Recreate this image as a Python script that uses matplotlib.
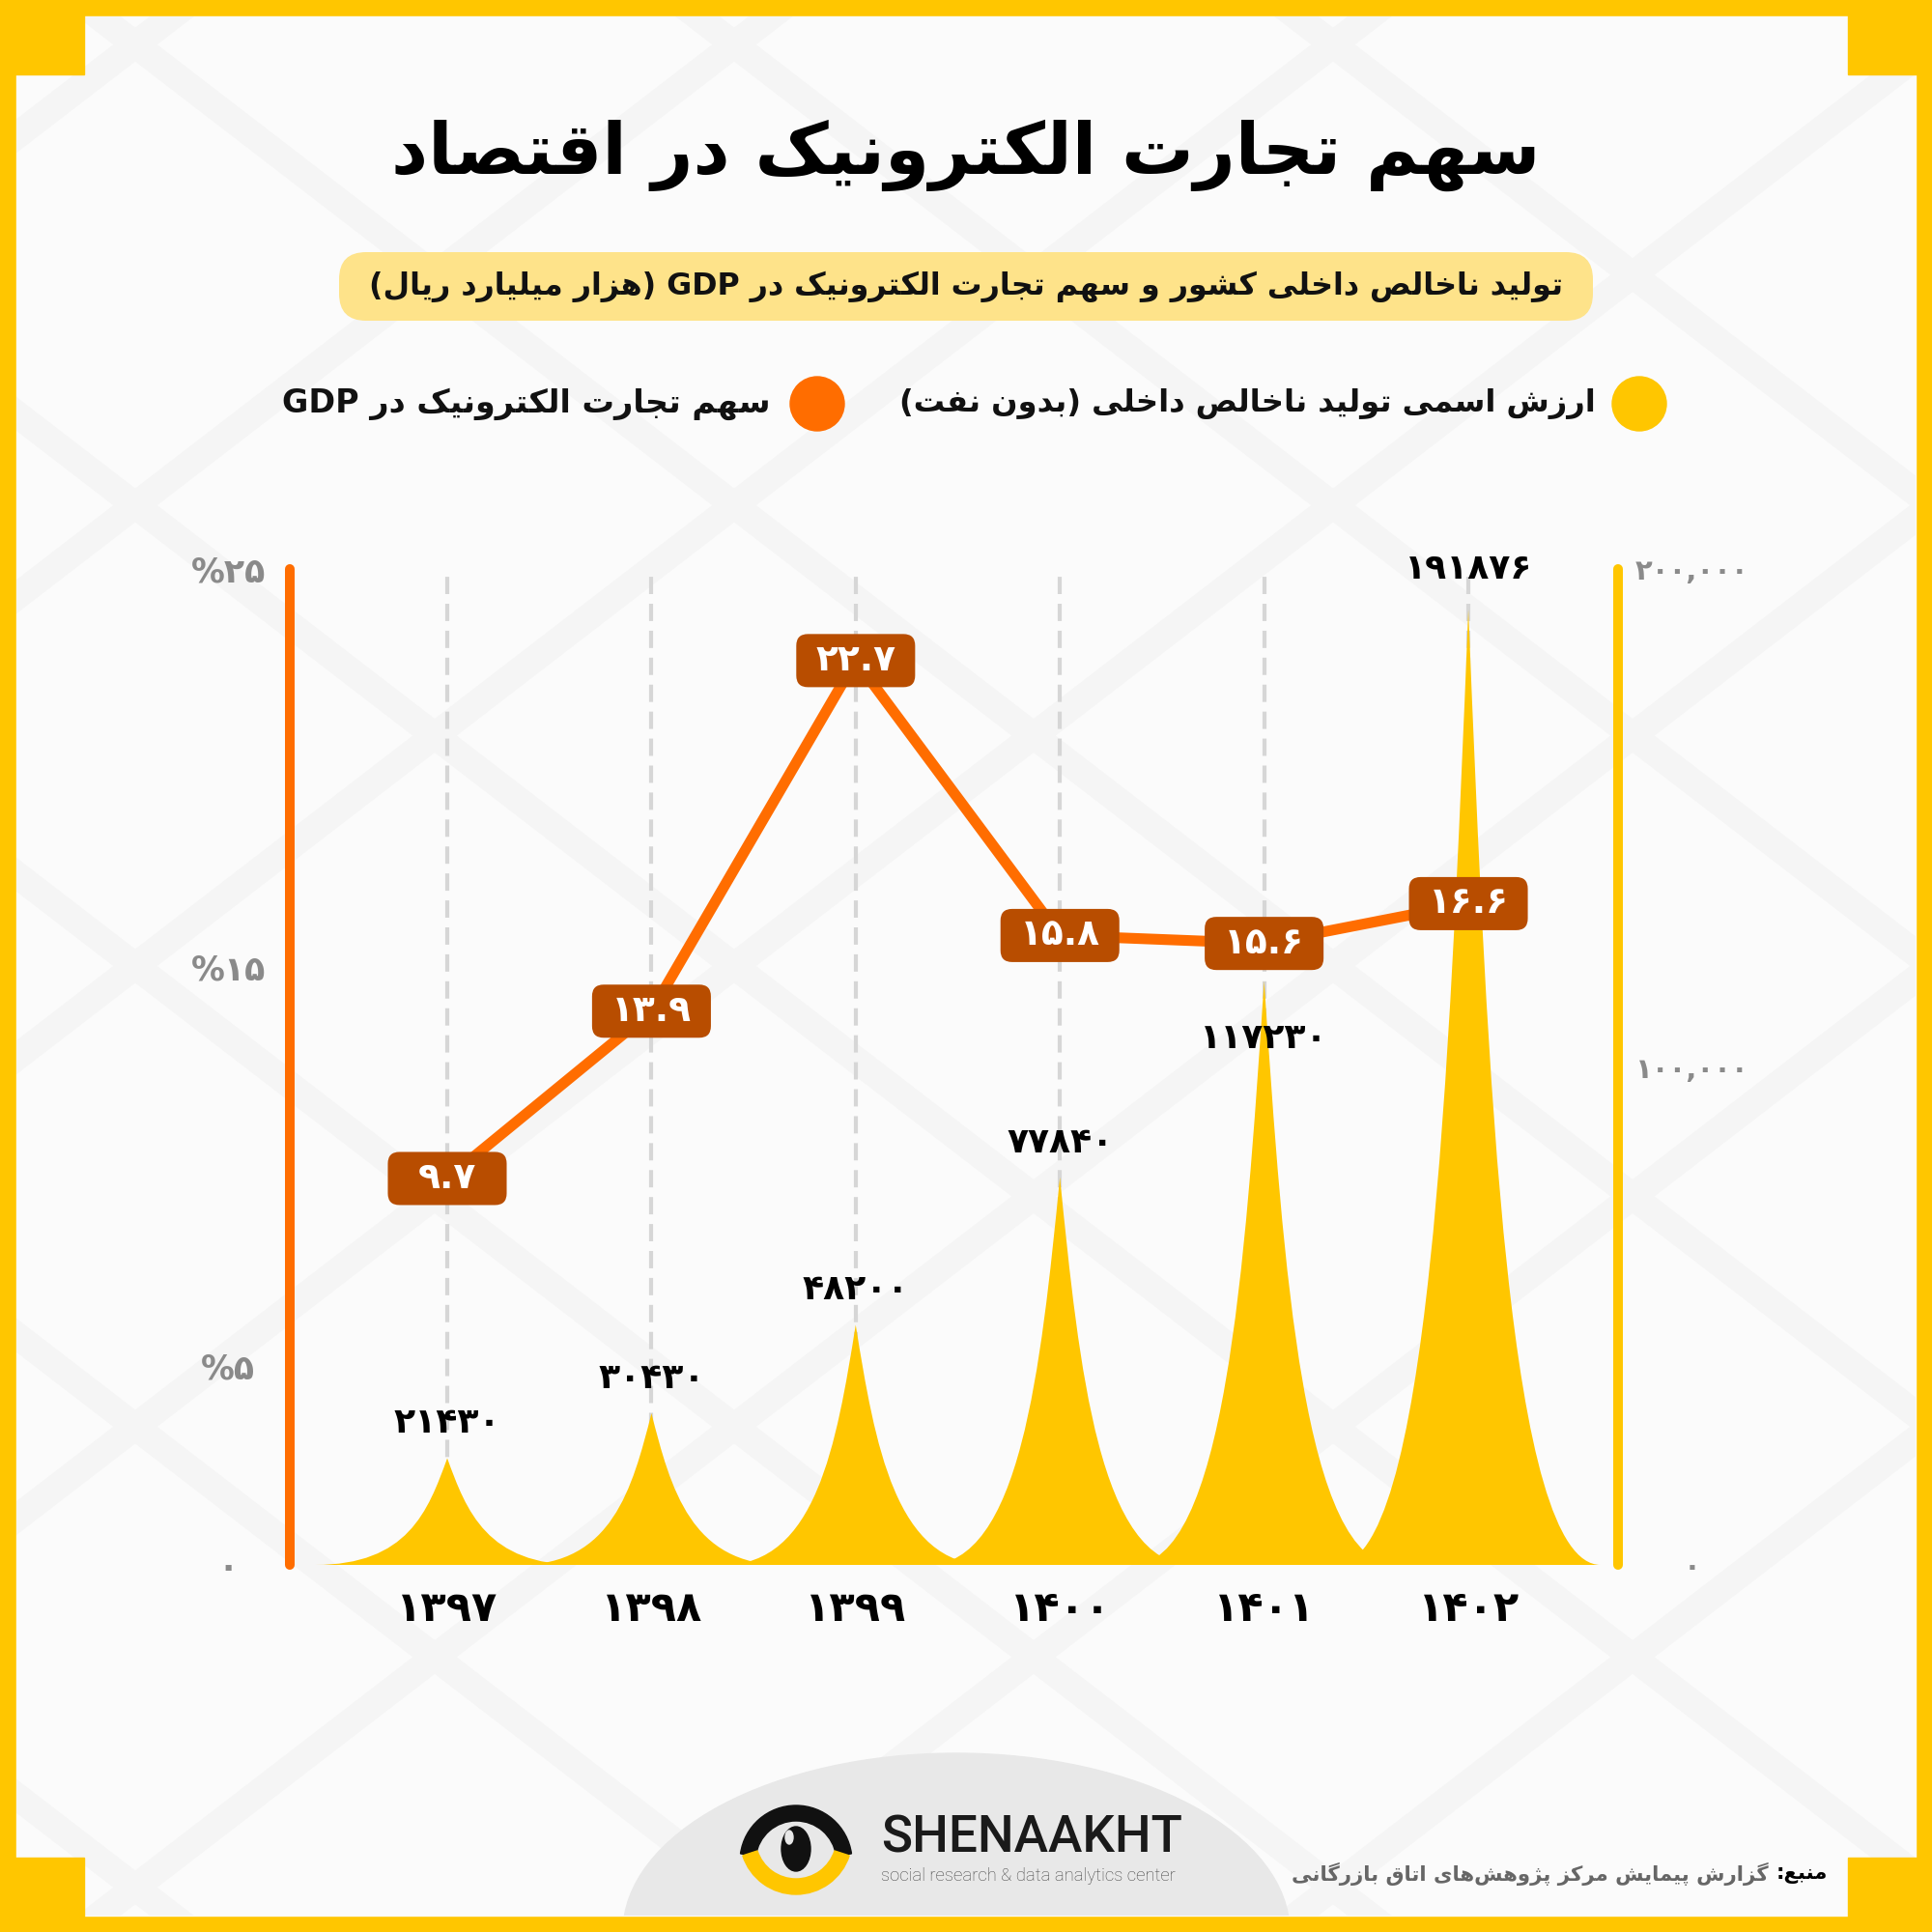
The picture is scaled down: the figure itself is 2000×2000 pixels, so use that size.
import re
import numpy as np
import matplotlib
matplotlib.use('Agg')
import matplotlib.pyplot as plt
from matplotlib.patches import Rectangle, FancyBboxPatch, Ellipse, Wedge, Circle, PathPatch
from matplotlib.path import Path

plt.rcParams['font.family'] = ['DejaVu Sans']

# data
years = [1397, 1398, 1399, 1400, 1401, 1402]
gdp = [21430, 30430, 48200, 77840, 117230, 191876]
share = [9.7, 13.9, 22.7, 15.8, 15.6, 16.6]
left_ticks = [0, 5, 15, 25]
right_ticks = [0, 100000, 200000]

title = 'سهم تجارت الکترونیک در اقتصاد'
subtitle = 'تولید ناخالص داخلی کشور و سهم تجارت الکترونیک در GDP (هزار میلیارد ریال)'
legend_gdp = 'ارزش اسمی تولید ناخالص داخلی (بدون نفت)'
legend_share = 'سهم تجارت الکترونیک در GDP'
source_head = 'منبع:'
source_body = 'گزارش پیمایش مرکز پژوهش‌های اتاق بازرگانی'

YELLOW = '#FFC600'
ORANGE = '#FF6D00'
BROWN = '#B84D00'
GRAY = '#8A8A8A'

# --- tiny persian shaper (matplotlib has no arabic shaping / bidi) ---
DUAL = {'ب': 0xFE8F, 'پ': 0xFB56, 'ت': 0xFE95, 'ث': 0xFE99, 'ج': 0xFE9D, 'چ': 0xFB7A,
        'ح': 0xFEA1, 'خ': 0xFEA5, 'س': 0xFEB1, 'ش': 0xFEB5, 'ص': 0xFEB9, 'ض': 0xFEBD,
        'ط': 0xFEC1, 'ظ': 0xFEC5, 'ع': 0xFEC9, 'غ': 0xFECD, 'ف': 0xFED1, 'ق': 0xFED5,
        'ک': 0xFB8E, 'ك': 0xFED9, 'گ': 0xFB92, 'ل': 0xFEDD, 'م': 0xFEE1, 'ن': 0xFEE5,
        'ه': 0xFEE9, 'ی': 0xFBFC, 'ي': 0xFEF1, 'ئ': 0xFE89}
RIGHT = {'ا': 0xFE8D, 'آ': 0xFE81, 'د': 0xFEA9, 'ذ': 0xFEAB, 'ر': 0xFEAD, 'ز': 0xFEAF,
         'ژ': 0xFB8A, 'و': 0xFEED}
FA_DIG = str.maketrans('0123456789', '۰۱۲۳۴۵۶۷۸۹')


def shape(s):
    out = []
    i = 0
    while i < len(s):
        c = s[i]
        prev = s[i - 1] if i > 0 else ''
        nxt = s[i + 1] if i + 1 < len(s) else ''
        p = prev in DUAL
        if c == 'ل' and nxt in ('ا', 'آ'):
            out.append(chr((0xFEFB if nxt == 'ا' else 0xFEF5) + p))
            i += 2
            continue
        if c in DUAL or c in RIGHT:
            q = c in DUAL and (nxt in DUAL or nxt in RIGHT)
            base = DUAL.get(c, RIGHT.get(c))
            out.append(chr(base + (3 if p and q else 1 if p else 2 if q else 0)))
        elif c != '\u200c':
            out.append(c)
        i += 1
    return ''.join(out)


def fa(s):
    toks = re.findall(r'[A-Za-z0-9\u06F0-\u06F9]+(?:[.,][A-Za-z0-9\u06F0-\u06F9]+)*|.', shape(s))
    mirror = {'(': ')', ')': '('}
    return ''.join(t if re.match(r'[A-Za-z0-9\u06F0-\u06F9]', t) else mirror.get(t, t)
                   for t in reversed(toks))


def fnum(v):
    return str(v).translate(FA_DIG)


fig = plt.figure(figsize=(20, 20), dpi=100)
rend = fig.canvas.get_renderer()


def fit(t, width):
    w = t.get_window_extent(renderer=rend).width
    t.set_fontsize(t.get_fontsize() * width / w)


# background, frame (pixel coords, y down)
bg = fig.add_axes([0, 0, 1, 1])
bg.set_xlim(0, 2000)
bg.set_ylim(2000, 0)
bg.axis('off')
bg.add_patch(Rectangle((0, 0), 2000, 2000, color=YELLOW))
inner = Rectangle((17, 17), 1966, 1966, color='#FBFBFB')
bg.add_patch(inner)
for off in np.arange(-2400, 2400, 620):
    for sgn in (1, -1):
        ln, = bg.plot([off, off + 2600] if sgn > 0 else [off + 2600, off], [0, 2000],
                      color='#F5F5F5', lw=20, solid_capstyle='butt', zorder=1)
        ln.set_clip_path(inner)
ell = Ellipse((990, 2000), 690, 370, color='#E8E8E8', zorder=2)
bg.add_patch(ell)
ell.set_clip_path(inner)
for cx, cy in [(0, 0), (1913, 0), (0, 1923), (1913, 1923)]:
    bg.add_patch(Rectangle((cx, cy), 87, 77, color=YELLOW, zorder=3))

# titles
t = bg.text(1000, 180, fa(title), ha='center', va='baseline', fontsize=60,
            fontweight='bold', color='black', zorder=5)
fit(t, 1192)
bg.add_patch(FancyBboxPatch((351, 261), 1298, 71, boxstyle='round,pad=0,rounding_size=28',
                            fc='#FEE38A', ec='none', zorder=4))
t = bg.text(1000, 297, fa(subtitle), ha='center', va='center', fontsize=24,
            fontweight='bold', color='#111111', zorder=5)
fit(t, 1242)

# legend
bg.add_patch(Circle((1697, 418), 28, color=YELLOW, zorder=4))
bg.add_patch(Circle((846, 418), 28, color=ORANGE, zorder=4))
t = bg.text(1652, 418, fa(legend_gdp), ha='right', va='center', fontsize=24,
            fontweight='bold', color='#111111', zorder=5)
fit(t, 723)
t = bg.text(797, 418, fa(legend_share), ha='right', va='center', fontsize=24,
            fontweight='bold', color='#111111', zorder=5)
fit(t, 506)

# logo
bg.add_patch(Wedge((824, 1927), 58, 188, 352, width=16, color='#111111', zorder=4))
bg.add_patch(Wedge((824, 1903), 58, 18, 162, width=16, color=YELLOW, zorder=4))
bg.add_patch(Ellipse((824, 1914), 30, 46, color='#111111', zorder=5))
bg.add_patch(Ellipse((817, 1902), 8, 14, color='#E8E8E8', zorder=6))
t = bg.text(912, 1903, 'SHENAAKHT', ha='left', va='center', fontsize=30,
            family='Roboto', fontweight='medium', color='#1A1A1A', zorder=5)
fit(t, 312)
t = bg.text(912, 1942, 'social research & data analytics center', ha='left', va='center',
            fontsize=12, family='Roboto', fontweight='light', color='#444444', zorder=5)
fit(t, 304)

# source
body = bg.text(1827, 1940, fa(source_body), ha='right', va='center', fontsize=20,
               fontweight='bold', color='#666666', zorder=5)
fit(body, 494)
head = bg.text(1892, 1940, fa(source_head), ha='right', va='center',
               fontsize=body.get_fontsize(), fontweight='bold', color='black', zorder=5)
hw_px = head.get_window_extent(renderer=rend).width
body.set_x(1892 - hw_px - 8)

# chart
ax = fig.add_axes([0.15, 0.19, 0.6875, 0.5155])
ax2 = ax.twinx()
ax.yaxis.tick_right()
ax2.yaxis.tick_left()
ax.patch.set_visible(False)

x = np.arange(len(years))
ax.set_xlim(-0.771, 5.733)
ax.set_ylim(0, 200000)
ax2.set_ylim(0, 25)

for xi in x:
    ax.axvline(xi, ymax=1.01, color='#D6D6D6', lw=3, ls=(0, (4.3, 2.4)), zorder=1)

hw = 0.648
for xi, v in zip(x, gdp):
    verts = [(xi - hw, 0), (xi + hw, 0),
             (xi + 0.3 * hw, 0), (xi + 0.146 * hw, 0.5 * v), (xi, v),
             (xi - 0.146 * hw, 0.5 * v), (xi - 0.3 * hw, 0), (xi - hw, 0),
             (xi - hw, 0)]
    codes = [Path.MOVETO, Path.LINETO] + [Path.CURVE4] * 6 + [Path.CLOSEPOLY]
    ax.add_patch(PathPatch(Path(verts, codes), fc=YELLOW, ec='none', zorder=2))

offsets = [26, 26, 26, 26, -43, 30]
for xi, v, off in zip(x, gdp, offsets):
    ax.annotate(fnum(v), (xi, v), xytext=(0, off), textcoords='offset points',
                ha='center', va='center', fontsize=26, fontweight='bold',
                color='black', zorder=5)

ax2.plot(x, share, color=ORANGE, lw=8, zorder=3, solid_joinstyle='round')
bw, bh = 0.582, 1.334
for xi, s in zip(x, share):
    ax2.add_patch(FancyBboxPatch((xi - bw / 2, s - bh / 2), bw, bh,
                                 boxstyle='round,pad=0,rounding_size=0.057',
                                 mutation_aspect=5.126, fc=BROWN, ec='none', zorder=4))
    ax2.text(xi, s, fnum(s), ha='center', va='center', fontsize=27,
             fontweight='bold', color='white', zorder=5)

# axes styling
for a in (ax, ax2):
    for sp in a.spines.values():
        sp.set_visible(False)
ax2.spines['left'].set_visible(True)
ax2.spines['left'].set(color=ORANGE, linewidth=7.2, capstyle='round')
ax.spines['right'].set_visible(True)
ax.spines['right'].set(color=YELLOW, linewidth=7.2, capstyle='round')

ax2.set_yticks(left_ticks, [('%' + fnum(v)) if v else fnum(v) for v in left_ticks])
ax2.tick_params(axis='y', length=0, pad=46, labelsize=25, labelcolor=GRAY)
for lbl in ax2.get_yticklabels():
    lbl.set_fontweight('bold')
    lbl.set_horizontalalignment('center')
ax.set_yticks(right_ticks, [f'{v:,}'.translate(FA_DIG) for v in right_ticks])
ax.tick_params(axis='y', length=0, pad=55, labelsize=21, labelcolor=GRAY)
for lbl in ax.get_yticklabels():
    lbl.set_fontweight('bold')
    lbl.set_horizontalalignment('center')
ax.set_xticks(x, [fnum(y) for y in years])
ax.tick_params(axis='x', length=0, pad=18, labelsize=31, labelcolor='black')
for lbl in ax.get_xticklabels():
    lbl.set_fontweight('bold')

fig.savefig('out.png', dpi=100)
